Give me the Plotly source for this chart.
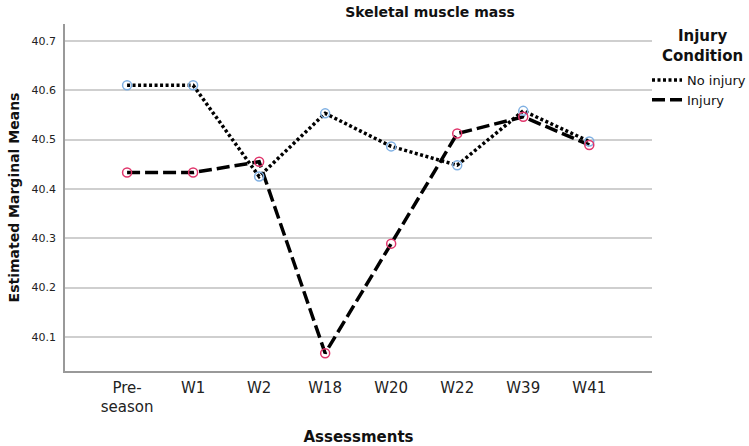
import plotly.graph_objects as go

categories = ["Pre-<br>season", "W1", "W2", "W18", "W20", "W22", "W39", "W41"]
no_injury = [40.610, 40.610, 40.425, 40.553, 40.486, 40.448, 40.558, 40.496]
injury = [40.433, 40.433, 40.455, 40.067, 40.289, 40.512, 40.546, 40.489]
y_ticks = [40.1, 40.2, 40.3, 40.4, 40.5, 40.6, 40.7]

FONT = "DejaVu Sans"
BLUE = "#7fb0e3"
RED = "#e0356b"

fig = go.Figure()

# lines (legend entries)
fig.add_trace(go.Scatter(x=categories, y=no_injury, mode="lines", name="No injury",
                         line=dict(color="black", width=3.5, dash="3px,2.5px")))
fig.add_trace(go.Scatter(x=categories, y=injury, mode="lines", name="Injury",
                         line=dict(color="black", width=3.5, dash="13px,5px")))
# markers
fig.add_trace(go.Scatter(x=categories, y=no_injury, mode="markers", showlegend=False,
                         marker=dict(symbol="circle-open", size=9, color=BLUE,
                                     line=dict(width=1.5, color=BLUE))))
fig.add_trace(go.Scatter(x=categories, y=injury, mode="markers", showlegend=False,
                         marker=dict(symbol="circle-open", size=9, color=RED,
                                     line=dict(width=1.5, color=RED))))

L, R, T, B = 65, 97, 24, 75
W, H = 749, 446

fig.update_layout(
    width=W, height=H,
    margin=dict(l=L, r=R, t=T, b=B, autoexpand=False),
    paper_bgcolor="white", plot_bgcolor="white",
    font=dict(family=FONT, color="#222"),
    title=dict(text="<b>Skeletal muscle mass</b>", x=430 / W, xref="container",
               xanchor="center", y=1 - 12 / H, yanchor="middle",
               font=dict(size=14, family=FONT, color="#111")),
    xaxis=dict(
        type="category", range=[-0.94, 7.95], automargin=False,
        showgrid=False, showline=True, linecolor="#999", linewidth=1.5,
        ticks="", tickfont=dict(size=15, family=FONT, color="#222"),
        ticklabelstandoff=2,
        title=dict(text="<b>Assessments</b>", font=dict(size=15, family=FONT, color="#111"),
                   standoff=20),
        zeroline=False,
    ),
    yaxis=dict(
        range=[40.031, 40.734], tickvals=y_ticks, ticktext=[f"{v:.1f}" for v in y_ticks],
        automargin=False,
        showgrid=True, gridcolor="#cfcfcf", gridwidth=1.5,
        showline=True, linecolor="#999", linewidth=1.5,
        ticks="", tickfont=dict(size=11, family=FONT, color="#222"),
        ticklabelstandoff=5,
        title=dict(text="<b>Estimated Marginal Means</b>",
                   font=dict(size=14, family=FONT, color="#111"), standoff=9),
        zeroline=False,
    ),
    legend=dict(
        xref="container", yref="container",
        x=647 / W, xanchor="left", y=1 - 65 / H, yanchor="top",
        font=dict(size=13, family=FONT, color="#111"),
        itemwidth=30, tracegroupgap=0, bgcolor="rgba(0,0,0,0)",
    ),
    annotations=[dict(
        text="<b>Injury<br>Condition</b>", xref="paper", yref="paper",
        x=(702 - L) / (W - L - R), y=1 - (46 - T) / (H - T - B),
        xanchor="center", yanchor="middle", align="center", showarrow=False,
        font=dict(size=15, family=FONT, color="#111"),
    )],
)

fig.write_html("out.html", config={"displayModeBar": False},
               post_script="document.body.style.margin='0';document.body.style.overflow='hidden';")
